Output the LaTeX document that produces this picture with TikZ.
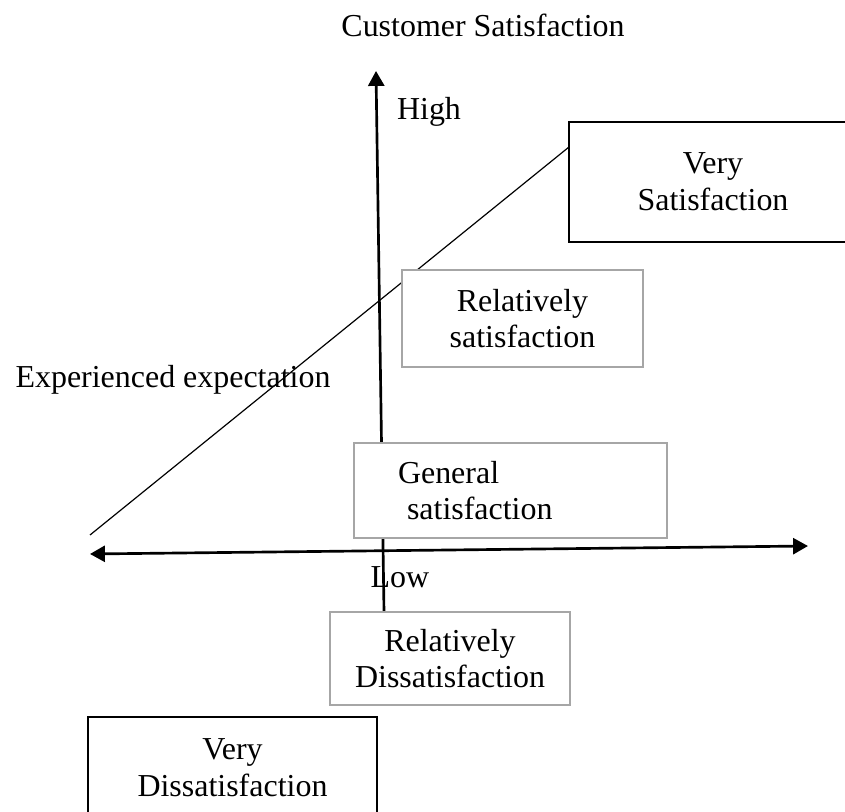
\documentclass[tikz,border=0pt]{standalone}
\usepackage{fontspec}
\setmainfont{Liberation Serif}
\usetikzlibrary{arrows.meta,positioning}
\newlength\pu
\setlength\pu{0.0132cm}

\begin{document}
\begin{tikzpicture}[x=0.0132cm,y=-0.0132cm,
    font=\fontsize{12}{13.8}\selectfont,
    darkbox/.style={draw=black,line width=1pt,fill=white,align=center,inner sep=0pt},
    greybox/.style={draw=black!35,line width=0.9pt,fill=white,align=center,inner sep=0pt}]
  \useasboundingbox (0,0) rectangle (845,812);
  \clip (0,0) rectangle (845,812);

  % axes and the expectation line
  \coordinate (ylo) at (384,612);
  \coordinate (yhi) at (376,71);
  \coordinate (xlo) at (90,554);
  \coordinate (xhi) at (808,546);
  \coordinate (dlo) at (90,535);
  \coordinate (dhi) at (569,147);
  \draw [line width=1pt,-{Triangle[length=5.6pt,width=6pt]}] (ylo) -- (yhi);
  \draw [line width=1pt,{Triangle[length=5.6pt,width=6pt]}-{Triangle[length=5.6pt,width=6pt]}] (xlo) -- (xhi);
  \draw [line width=0.45pt] (dlo) -- (dhi);

  % levels
  \node [darkbox,minimum width=288\pu,minimum height=120\pu] (vsat) at (713,182) {Very\\Satisfaction};
  \node [greybox,minimum width=241\pu,minimum height=97\pu] (rsat) at (522.5,318.5) {Relatively\\satisfaction};
  \node [greybox,align=left,minimum width=313\pu,minimum height=95\pu,text width=313\pu] (gsat) at (510.5,490.5)
    {\hspace*{44\pu}General\\\hspace*{53\pu}satisfaction};
  \node [greybox,minimum width=240\pu,minimum height=93\pu] (rdis) at (450,658.5) {Relatively\\Dissatisfaction};
  \node [darkbox,minimum width=289\pu,minimum height=101\pu] (vdis) at (232.5,767.5) {Very\\Dissatisfaction};

  % labels
  \node (title) at (483,25) {Customer Satisfaction};
  \node (high) at (429,112) {High};
  \node [anchor=west,inner sep=0pt] (expc) at (15,380) {Experienced expectation};
  \node (low) at (400,577) {Low};
\end{tikzpicture}
\end{document}
